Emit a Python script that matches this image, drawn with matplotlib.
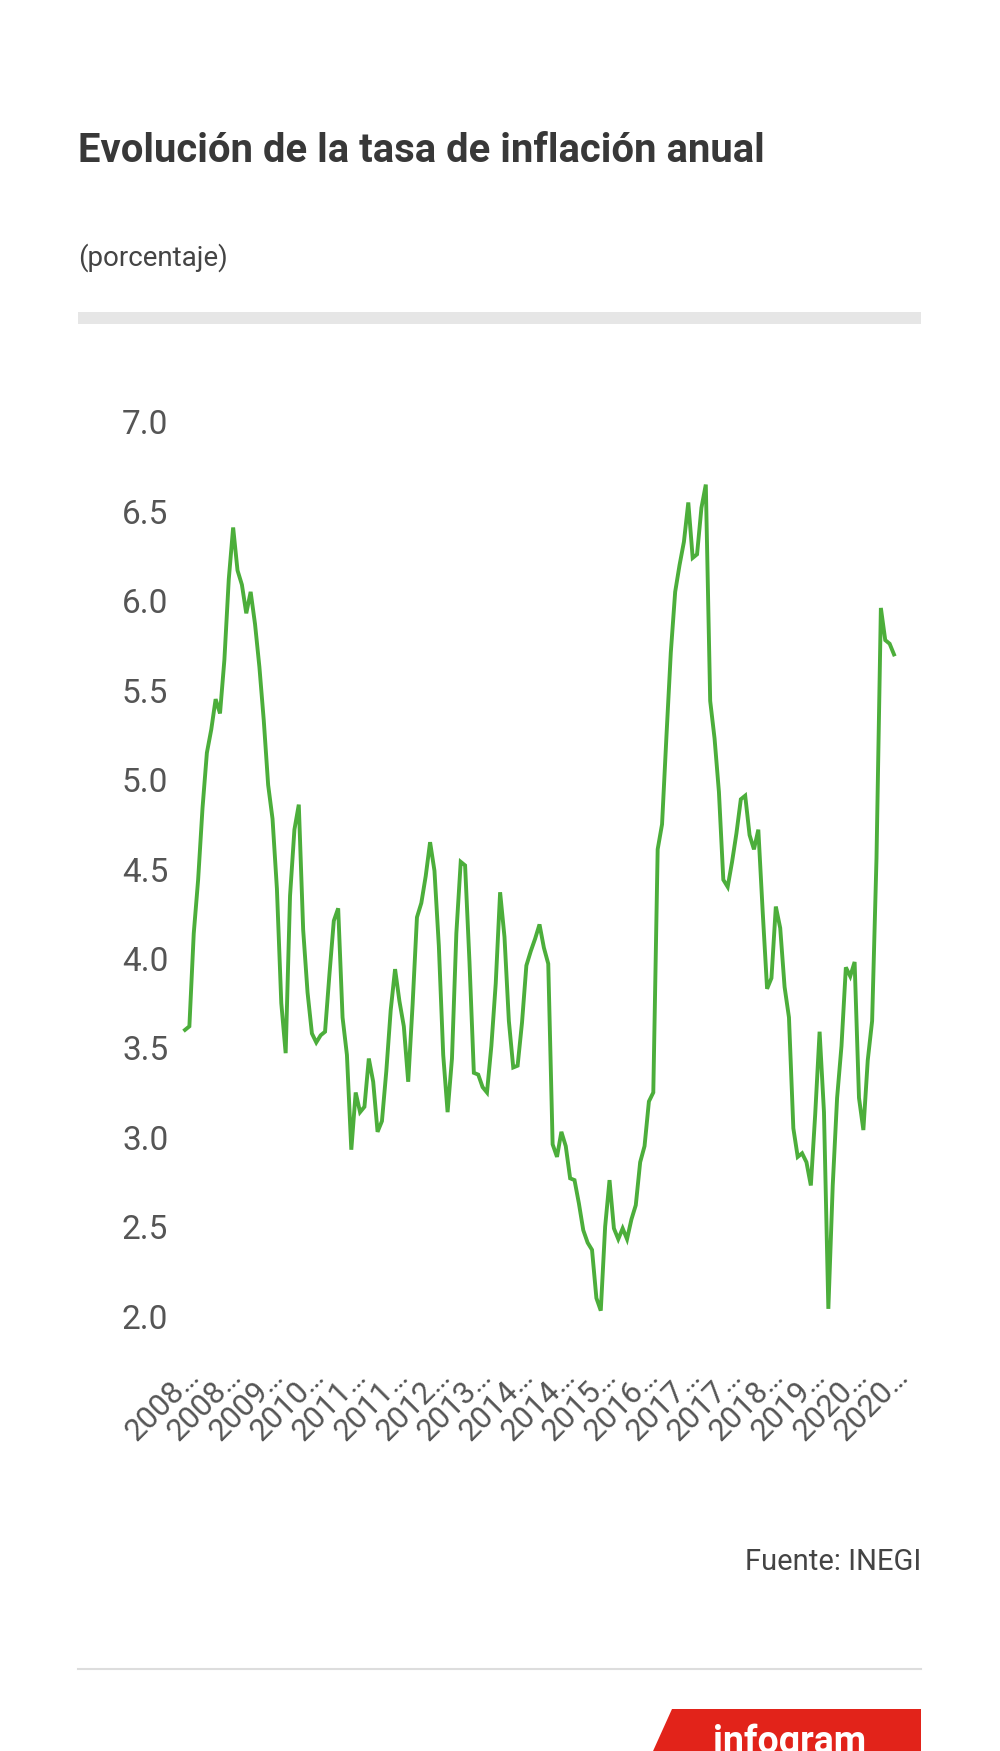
import numpy as np
import pandas as pd
import matplotlib
matplotlib.use('Agg')
import matplotlib.pyplot as plt
from matplotlib.patches import Polygon, Rectangle

plt.rcParams['font.family'] = ['Roboto', 'DejaVu Sans']

# tasa de inflacion anual, mensual ene-2008 .. jul-2021
inflacion = [
    3.60, 3.62, 4.14, 4.44, 4.84, 5.15, 5.28, 5.45, 5.37, 5.67, 6.12, 6.41,   # 2008
    6.17, 6.09, 5.93, 6.05, 5.87, 5.63, 5.33, 4.97, 4.78, 4.39, 3.75, 3.47,   # 2009
    4.35, 4.72, 4.86, 4.16, 3.81, 3.58, 3.53, 3.57, 3.59, 3.91, 4.21, 4.28,   # 2010
    3.67, 3.46, 2.93, 3.25, 3.14, 3.17, 3.44, 3.31, 3.03, 3.09, 3.37, 3.71,   # 2011
    3.94, 3.76, 3.62, 3.31, 3.74, 4.23, 4.31, 4.46, 4.65, 4.49, 4.07, 3.46,   # 2012
    3.14, 3.44, 4.14, 4.54, 4.52, 3.98, 3.36, 3.35, 3.28, 3.25, 3.51, 3.86,   # 2013
    4.37, 4.12, 3.65, 3.39, 3.40, 3.64, 3.96, 4.04, 4.11, 4.19, 4.06, 3.97,   # 2014
    2.96, 2.89, 3.03, 2.95, 2.77, 2.76, 2.63, 2.48, 2.41, 2.37, 2.10, 2.03,   # 2015
    2.50, 2.76, 2.49, 2.43, 2.49, 2.43, 2.54, 2.62, 2.86, 2.95, 3.20, 3.25,   # 2016
    4.61, 4.75, 5.24, 5.71, 6.05, 6.20, 6.33, 6.55, 6.24, 6.26, 6.52, 6.65,   # 2017
    5.44, 5.23, 4.93, 4.44, 4.40, 4.54, 4.70, 4.89, 4.91, 4.69, 4.61, 4.72,   # 2018
    4.26, 3.83, 3.89, 4.29, 4.17, 3.84, 3.67, 3.05, 2.89, 2.91, 2.86, 2.73,   # 2019
    3.13, 3.59, 3.14, 2.04, 2.73, 3.22, 3.51, 3.95, 3.90, 3.98, 3.22, 3.04,   # 2020
    3.43, 3.65, 4.56, 5.96, 5.78, 5.76, 5.70,                                 # 2021
]
meses = pd.date_range('2008-01-01', periods=len(inflacion), freq='MS')
yticks = [2.0, 2.5, 3.0, 3.5, 4.0, 4.5, 5.0, 5.5, 6.0, 6.5, 7.0]
paso_etiquetas = 9
n_etiquetas = 18

titulo = 'Evolución de la tasa de inflación anual'
subtitulo = '(porcentaje)'
fuente = 'Fuente: INEGI'

W, H = 1000, 1751
fig = plt.figure(figsize=(W / 100, H / 100), dpi=100)
fig.patch.set_facecolor('white')

def fx(px):
    return px / W

def fy(py):
    return 1 - py / H

# header
fig.text(fx(78), fy(151), titulo, fontsize=28.8, fontweight='bold', color='#383838',
         ha='left', va='center')
fig.text(fx(78), fy(258), subtitulo, fontsize=20, color='#444444', ha='left', va='center')
fig.patches.append(Rectangle((fx(78), fy(324)), fx(921) - fx(78), fy(312) - fy(324),
                             transform=fig.transFigure, facecolor='#e6e6e6', edgecolor='none'))

# chart
ax = fig.add_axes([fx(185), fy(1316), fx(894) - fx(185), fy(422) - fy(1316)])
x = np.arange(len(inflacion))
ax.plot(x, inflacion, color='#4cae3b', lw=2.8, clip_on=False, solid_joinstyle='miter')
ax.set_xlim(0, len(inflacion) - 1)
ax.set_ylim(2, 7)
for s in ax.spines.values():
    s.set_visible(False)
ax.set_yticks(yticks)
ax.set_yticklabels(['%.1f' % v for v in yticks])

# infogram reparte las etiquetas a lo ancho del eje
idx = x[::paso_etiquetas][:n_etiquetas]
pos = np.linspace(0, len(inflacion) - 1, n_etiquetas)
ax.set_xticks(pos)
ax.set_xticklabels([str(meses[i].year) + '…' for i in idx], rotation=45, ha='right',
                   va='top', rotation_mode='anchor')
ax.tick_params(axis='y', length=0, pad=12, labelsize=24, labelcolor='#555555')
ax.tick_params(axis='x', length=0, pad=33, labelsize=22.5, labelcolor='#555555')

# footer
fig.text(fx(921), fy(1562), fuente, fontsize=21, color='#444444', ha='right', va='center')
fig.add_artist(plt.Line2D([fx(78), fx(921)], [fy(1669), fy(1669)], color='#dddddd', lw=1.5,
                          transform=fig.transFigure))
logo = Polygon([(fx(672), fy(1709)), (fx(921), fy(1709)), (fx(921), fy(1760)), (fx(649), fy(1760))],
               closed=True, transform=fig.transFigure, facecolor='#e2231a', edgecolor='none')
fig.patches.append(logo)
fig.text(fx(790), fy(1724), 'infogram', fontsize=27, fontweight='bold', color='white',
         ha='center', va='top')

fig.savefig('out.png', dpi=100, facecolor='white')
